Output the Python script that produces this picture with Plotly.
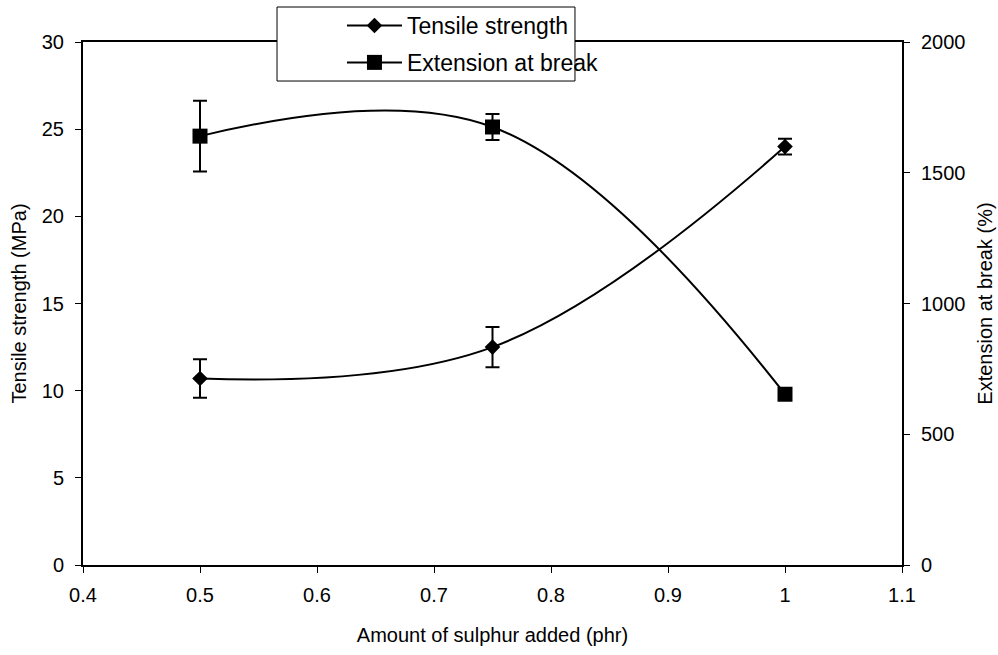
import plotly.graph_objects as go

sulphur = [0.5, 0.75, 1.0]
tensile = [10.7, 12.5, 24.0]
tensile_err = [1.1, 1.15, 0.45]
extension = [1640, 1675, 653]
extension_err = [135, 50, 0]

FONT = "Liberation Sans, Arial, sans-serif"

fig = go.Figure()
fig.add_trace(go.Scatter(
    x=sulphur, y=tensile, name="Tensile strength", legendgroup="a",
    mode="lines+markers",
    line=dict(color="black", width=2, shape="spline", smoothing=1.1),
    marker=dict(symbol="diamond", size=12, color="black"),
    error_y=dict(type="data", array=tensile_err, visible=True, color="black", thickness=2, width=7),
    yaxis="y",
))
fig.add_trace(go.Scatter(
    x=sulphur, y=extension, name="Extension at break", legendgroup="b",
    mode="lines+markers",
    line=dict(color="black", width=2, shape="spline", smoothing=1.1),
    marker=dict(symbol="square", size=15, color="black"),
    error_y=dict(type="data", array=extension_err, visible=True, color="black", thickness=2, width=7),
    yaxis="y2",
))

axis_common = dict(
    showline=True, linecolor="black", linewidth=2,
    ticks="outside", ticklen=6, tickcolor="black", tickwidth=1,
    showgrid=False, zeroline=False,
    tickfont=dict(family=FONT, size=20, color="black"),
    title_font=dict(family=FONT, size=20, color="black"),
)

fig.update_layout(
    width=998, height=655,
    margin=dict(l=83, r=96, t=42, b=90, autoexpand=False),
    paper_bgcolor="white", plot_bgcolor="white",
    font=dict(family=FONT, color="black"),
    xaxis=dict(range=[0.4, 1.1], dtick=0.1, tick0=0.4, mirror=True,
               title=dict(text="Amount of sulphur added (phr)", standoff=23),
               tickformat="~g", ticklabelstandoff=5, **axis_common),
    yaxis=dict(range=[0, 30], dtick=5, title=dict(text="Tensile strength (MPa)", standoff=10),
               ticklabelstandoff=7, **axis_common),
    yaxis2=dict(range=[0, 2000], dtick=500, overlaying="y", side="right",
                title=dict(text="Extension at break (%)", standoff=13),
                ticklabelstandoff=7, **axis_common),
    legend=dict(
        x=0.3162, y=1.0726, xanchor="left", yanchor="top",
        bgcolor="rgba(0,0,0,0)", borderwidth=0,
        font=dict(family=FONT, size=23, color="black"),
        itemwidth=55, tracegroupgap=4,
    ),
    shapes=[dict(
        type="rect", xref="paper", yref="paper",
        x0=0.2369, x1=0.6007, y0=0.9254, y1=1.0669,
        fillcolor="white", line=dict(color="black", width=1), layer="above",
    )],
    showlegend=True,
)

fig.write_html("out.html", config={"displayModeBar": False},
               post_script="document.body.style.margin='0';document.body.style.padding='0';")
